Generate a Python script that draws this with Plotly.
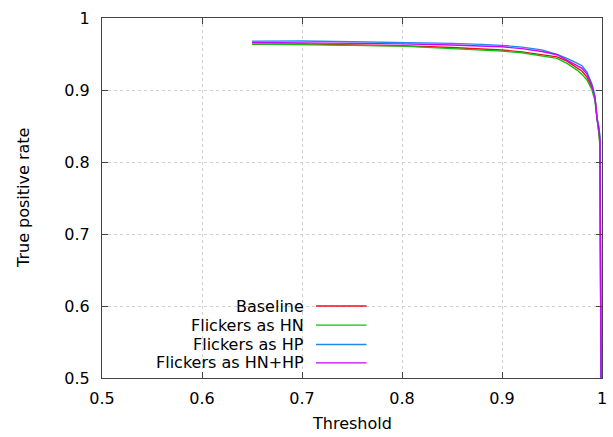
import plotly.graph_objects as go

threshold = [0.65, 0.70, 0.75, 0.80, 0.85, 0.88, 0.90, 0.92, 0.94, 0.955, 0.965,
             0.975, 0.98, 0.985, 0.99, 0.993, 0.995, 0.997, 0.998, 0.999]

tpr_baseline = [0.9635, 0.964, 0.9625, 0.9615, 0.959, 0.957, 0.9555, 0.953, 0.949, 0.946,
                0.940, 0.931, 0.926, 0.918, 0.903, 0.888, 0.862, 0.842, 0.825, 0.5]
tpr_hn = [0.9637, 0.9633, 0.962, 0.961, 0.9577, 0.9554, 0.954, 0.9517, 0.9475, 0.944,
          0.937, 0.9277, 0.9217, 0.914, 0.900, 0.885, 0.860, 0.840, 0.820, 0.5]
tpr_hp = [0.9679, 0.968, 0.967, 0.966, 0.9647, 0.9633, 0.962, 0.9596, 0.9558, 0.9494,
          0.944, 0.9374, 0.9337, 0.925, 0.908, 0.890, 0.862, 0.848, 0.835, 0.5]
tpr_hnhp = [0.9662, 0.9657, 0.965, 0.964, 0.9625, 0.961, 0.960, 0.9575, 0.9535, 0.949,
            0.942, 0.934, 0.930, 0.922, 0.906, 0.890, 0.860, 0.845, 0.830, 0.5]

series_names = ["Baseline", "Flickers as HN", "Flickers as HP", "Flickers as HN+HP"]
series_values = [tpr_baseline, tpr_hn, tpr_hp, tpr_hnhp]
colors = ["#f01010", "#10c010", "#2288ee", "#cc00ff"]

x_ticks = [0.5, 0.6, 0.7, 0.8, 0.9, 1.0]
x_tick_labels = ["0.5", "0.6", "0.7", "0.8", "0.9", "1"]
y_ticks = [0.5, 0.6, 0.7, 0.8, 0.9, 1.0]
y_tick_labels = ["0.5", "0.6", "0.7", "0.8", "0.9", "1"]

FONT = "DejaVu Sans"
FS = 16

fig = go.Figure()
for name, vals, col in zip(series_names, series_values, colors):
    fig.add_trace(go.Scatter(x=threshold, y=vals, mode="lines", name=name,
                             line=dict(color=col, width=1.4),
                             showlegend=False))

axis_common = dict(
    showline=True, linecolor="#444444", linewidth=1, mirror="allticks",
    ticks="inside", ticklen=6, tickcolor="#444444",
    showgrid=True, gridcolor="#d0d0d0", griddash="dot", gridwidth=1,
    zeroline=False, tickfont=dict(family=FONT, size=FS, color="black"),
)

fig.update_layout(
    width=613, height=437,
    margin=dict(l=102, r=6, t=18, b=59),
    paper_bgcolor="white", plot_bgcolor="white",
    font=dict(family=FONT, size=FS, color="black"),
    xaxis=dict(range=[0.5, 1.0], tickvals=x_ticks, ticktext=x_tick_labels,
               ticklabelstandoff=6, **axis_common),
    yaxis=dict(range=[0.5, 1.0], tickvals=y_ticks, ticktext=y_tick_labels,
               ticklabelstandoff=8, **axis_common),
)

# axis titles
fig.add_annotation(text="Threshold", xref="paper", yref="paper", x=0.5, y=-0.125,
                   showarrow=False, xanchor="center", yanchor="middle",
                   font=dict(family=FONT, size=FS, color="black"))
fig.add_annotation(text="True positive rate", xref="paper", yref="paper",
                   x=-0.158, y=0.5, textangle=-90, showarrow=False,
                   xanchor="center", yanchor="middle",
                   font=dict(family=FONT, size=FS, color="black"))

# manual gnuplot-style legend (text left, sample right)
legend_rows = [0.200, 0.147, 0.093, 0.042]
for name, col, ly in zip(series_names, colors, legend_rows):
    fig.add_annotation(text=name, xref="paper", yref="paper", x=0.407, y=ly,
                       showarrow=False, xanchor="right", yanchor="middle",
                       font=dict(family=FONT, size=FS, color="black"))
    fig.add_shape(type="line", xref="paper", yref="paper", x0=0.428, x1=0.529,
                  y0=ly, y1=ly, line=dict(color=col, width=1.4))

fig.write_html("out.html")
